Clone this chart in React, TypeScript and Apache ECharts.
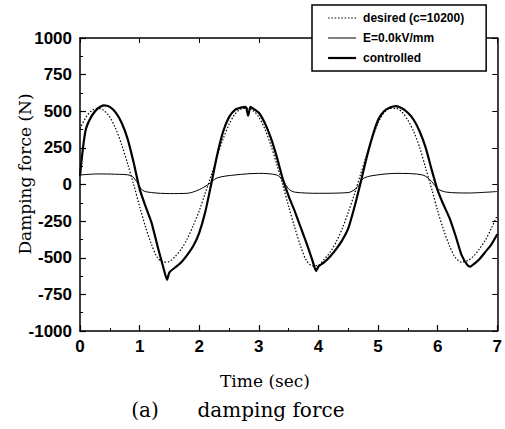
import React, { useEffect, useRef } from "react";
import * as echarts from "echarts";

const xTicks = [0, 1, 2, 3, 4, 5, 6, 7];
const yTicks = [-1000, -750, -500, -250, 0, 250, 500, 750, 1000];

const desiredT = [0, 0.1, 0.2, 0.3, 0.4, 0.5, 0.6, 0.7, 0.8, 0.9, 1.0, 1.1, 1.2, 1.3, 1.4, 1.5, 1.6, 1.7, 1.8, 1.9, 2.0, 2.1, 2.2, 2.3, 2.4, 2.5, 2.6, 2.7, 2.8, 2.9, 3.0, 3.1, 3.2, 3.3, 3.4, 3.5, 3.6, 3.7, 3.8, 3.9, 4.0, 4.1, 4.2, 4.3, 4.4, 4.5, 4.6, 4.7, 4.8, 4.9, 5.0, 5.1, 5.2, 5.3, 5.4, 5.5, 5.6, 5.7, 5.8, 5.9, 6.0, 6.1, 6.2, 6.3, 6.4, 6.5, 6.6, 6.7, 6.8, 6.9, 7.0];
const desiredF = [380, 460, 505, 520, 505, 460, 380, 270, 140, 0, -150, -290, -410, -500, -530, -525, -490, -440, -370, -280, -180, -60, 60, 190, 310, 410, 480, 515, 520, 505, 460, 380, 270, 140, 0, -150, -290, -420, -520, -555, -550, -510, -460, -390, -300, -190, -70, 60, 190, 310, 420, 490, 520, 520, 495, 440, 360, 250, 110, -30, -180, -310, -420, -500, -530, -520, -490, -440, -380, -300, -210];

const passiveT = [0, 0.3, 0.6, 0.85, 0.95, 1.05, 1.2, 1.5, 1.8, 2.0, 2.15, 2.3, 2.6, 3.0, 3.3, 3.4, 3.5, 3.6, 4.0, 4.5, 4.65, 4.75, 4.9, 5.3, 5.75, 5.9, 6.0, 6.15, 6.5, 7.0];
const passiveF = [65, 72, 70, 62, 20, -40, -55, -62, -60, -35, 0, 45, 65, 76, 65, 30, -30, -52, -60, -55, -20, 40, 60, 76, 65, 20, -30, -52, -58, -48];

const controlledT = [0, 0.05, 0.1, 0.2, 0.3, 0.4, 0.5, 0.6, 0.7, 0.8, 0.9, 1.0, 1.1, 1.2, 1.3, 1.4, 1.46, 1.5, 1.6, 1.7, 1.8, 1.9, 2.0, 2.1, 2.2, 2.3, 2.4, 2.5, 2.6, 2.7, 2.78, 2.82, 2.86, 2.9, 3.0, 3.1, 3.2, 3.3, 3.4, 3.5, 3.6, 3.7, 3.8, 3.9, 3.96, 4.0, 4.1, 4.2, 4.3, 4.4, 4.5, 4.6, 4.7, 4.8, 4.9, 5.0, 5.1, 5.2, 5.3, 5.4, 5.5, 5.6, 5.7, 5.8, 5.9, 6.0, 6.1, 6.2, 6.3, 6.4, 6.5, 6.55, 6.6, 6.7, 6.8, 6.9, 7.0];
const controlledF = [60, 250, 380, 470, 520, 540, 530, 490, 420, 310, 150, -30, -150, -260, -420, -570, -650, -600, -565, -530, -480, -420, -330, -190, 0, 200, 360, 460, 510, 525, 530, 470, 530, 520, 490, 420, 320, 190, 40, -80, -180, -290, -400, -520, -590, -560, -530, -490, -440, -380, -300, -160, 0, 170, 320, 440, 500, 525, 535, 520, 490, 440, 360, 250, 100, -40, -140, -230, -350, -480, -550, -560, -545, -510, -460, -410, -340];

const seriesNames = ["desired (c=10200)", "E=0.0kV/mm", "controlled"];

const zip = (t: number[], f: number[]) => t.map((v, i) => [v, f[i]]);

export default function App() {
  const ref = useRef<HTMLDivElement>(null);
  useEffect(() => {
    if (!ref.current) return;
    const chart = echarts.init(ref.current, null, { renderer: "svg" });
    const axisLine = { show: true, onZero: false, lineStyle: { color: "#000", width: 1.5 } };
    const tickLbl = {
      fontFamily: "Liberation Sans", fontWeight: "bold", fontSize: 17, color: "#000",
      formatter: (v: number) => String(v),
    };
    const lineStyles = [
      { color: "#000", width: 1.2, type: [1.5, 1.8] },
      { color: "#000", width: 1 },
      { color: "#000", width: 2.2 },
    ];
    chart.setOption({
      animation: false,
      backgroundColor: "#fff",
      grid: { left: 80, top: 38, right: 7, bottom: 98, containLabel: false },
      xAxis: [
        {
          type: "value", min: xTicks[0], max: xTicks[xTicks.length - 1], interval: 1,
          axisLine, splitLine: { show: false },
          axisTick: { inside: true, length: 6, lineStyle: { color: "#000", width: 1.2 } },
          minorTick: { show: true, splitNumber: 2, length: 3, lineStyle: { color: "#000", width: 1 } },
          axisLabel: { ...tickLbl, margin: 7 },
        },
        {
          type: "value", position: "top", min: xTicks[0], max: xTicks[xTicks.length - 1], interval: 1,
          axisLine, splitLine: { show: false },
          axisTick: { inside: true, length: 5, lineStyle: { color: "#000", width: 1 } },
          axisLabel: { show: false },
        },
      ],
      yAxis: [
        {
          type: "value", min: yTicks[0], max: yTicks[yTicks.length - 1], interval: 250,
          axisLine, splitLine: { show: false },
          axisTick: { inside: true, length: 6, lineStyle: { color: "#000", width: 1.2 } },
          minorTick: { show: true, splitNumber: 2, length: 3, lineStyle: { color: "#000", width: 1 } },
          axisLabel: { ...tickLbl, margin: 8 },
        },
        {
          type: "value", position: "right", min: yTicks[0], max: yTicks[yTicks.length - 1], interval: 250,
          axisLine, splitLine: { show: false },
          axisTick: { inside: true, length: 5, lineStyle: { color: "#000", width: 1 } },
          axisLabel: { show: false },
        },
      ],
      legend: {
        orient: "vertical", left: 312, top: 5,
        padding: [7, 22, 7, 15], itemGap: 8, itemWidth: 28, itemHeight: 14,
        backgroundColor: "#fff", borderColor: "#000", borderWidth: 1.5,
        itemStyle: { opacity: 0 },
        textStyle: { fontFamily: "Liberation Sans", fontWeight: "bold", fontSize: 12, color: "#000", padding: [0, 0, 0, 2] },
        data: seriesNames.map((name, i) => ({ name, lineStyle: lineStyles[i], itemStyle: { opacity: 0 } })),
        z: 10,
      },
      graphic: [
        {
          type: "text", x: 25, y: 174, rotation: Math.PI / 2,
          style: { text: "Damping force (N)", fontFamily: "DejaVu Serif", fontSize: 17, fill: "#000", align: "center", verticalAlign: "middle" },
        },
        {
          type: "text", x: 265, y: 381,
          style: { text: "Time (sec)", fontFamily: "DejaVu Serif", fontSize: 17, fill: "#000", align: "center", verticalAlign: "middle" },
        },
        {
          type: "text", x: 145, y: 410,
          style: { text: "(a)", fontFamily: "DejaVu Serif", fontSize: 20, fill: "#000", align: "center", verticalAlign: "middle" },
        },
        {
          type: "text", x: 271, y: 410,
          style: { text: "damping force", fontFamily: "DejaVu Serif", fontSize: 20, fill: "#000", align: "center", verticalAlign: "middle" },
        },
      ],
      series: [
        {
          name: seriesNames[0], type: "line", data: zip(desiredT, desiredF), symbol: "none", smooth: 0.3,
          lineStyle: lineStyles[0], itemStyle: { color: "#000" },
        },
        {
          name: seriesNames[1], type: "line", data: zip(passiveT, passiveF), symbol: "none", smooth: 0.3,
          lineStyle: lineStyles[1], itemStyle: { color: "#000" },
        },
        {
          name: seriesNames[2], type: "line", data: zip(controlledT, controlledF), symbol: "none", smooth: 0.2,
          lineStyle: lineStyles[2], itemStyle: { color: "#000" },
        },
      ],
    });
    return () => chart.dispose();
  }, []);
  return <div ref={ref} style={{ position: "absolute", left: 0, top: 0, width: 505, height: 429 }} />;
}
